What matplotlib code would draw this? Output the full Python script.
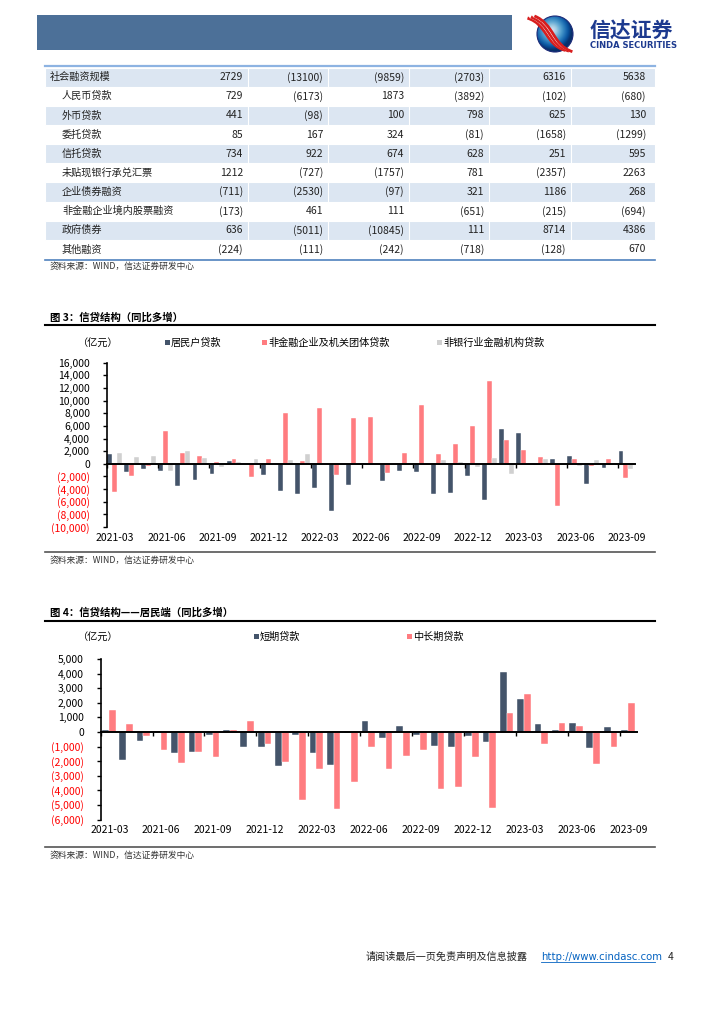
import matplotlib
matplotlib.use("Agg")
import matplotlib.pyplot as plt
import numpy as np
from matplotlib.patches import Rectangle, Circle, PathPatch
from matplotlib.path import Path
from matplotlib.transforms import blended_transform_factory

plt.rcParams['font.family'] = ['Noto Sans CJK SC', 'DejaVu Sans']

# ---- table data (社融同比多增, 亿元) ----
row_labels = ["社会融资规模", "人民币贷款", "外币贷款", "委托贷款", "信托贷款",
              "未贴现银行承兑汇票", "企业债券融资", "非金融企业境内股票融资",
              "政府债券", "其他融资"]
col1 = [2729, 729, 441, 85, 734, 1212, -711, -173, 636, -224]
col2 = [-13100, -6173, -98, 167, 922, -727, -2530, 461, -5011, -111]
col3 = [-9859, 1873, 100, 324, 674, -1757, -97, 111, -10845, -242]
col4 = [-2703, -3892, 798, -81, 628, 781, 321, -651, 111, -718]
col5 = [6316, -102, 625, -1658, 251, -2357, 1186, -215, 8714, -128]
col6 = [5638, -680, 130, -1299, 595, 2263, 268, -694, 4386, 670]

# ---- chart 3: 信贷结构 (同比多增) ----
months = [f"{y}-{m:02d}" for y in (2021, 2022, 2023) for m in range(1, 13)][2:33]
household = [1600, -1370, -790, -1100, -3470, -2630, -1680, 400, -100, -1820,
             -4250, -4730, -3900, -7420, -3310, 50, -2790, -1100, -1370, -4790,
             -4630, -1950, -5790, 5470, 4840, -260, 790, 1160, -3160, -630, 2050]
corporate = [-4420, -2000, -300, 5260, 1680, 1200, 350, 760, -2050, 700,
             8050, 370, 8780, -1740, 7200, 7470, -1420, 1740, 9300, 1530,
             3100, 6000, 13100, 3730, 2160, 1050, -6680, 740, -420, 740, -2310]
nonbank = [1680, 1100, 1300, -1100, 2000, 840, -580, 290, 700, 0,
           580, 1630, 0, 0, 0, 100, -260, 200, 0, 530,
           260, -580, 890, -1580, 0, 790, 0, -320, 680, 0, -900]

# ---- chart 4: 居民端 (同比多增) ----
short_term = [100, -1940, -590, 90, -1440, -1370, -200, 160, -1000, -1050,
              -2300, -230, -1410, -2260, -50, 750, -390, 410, -200, -940,
              -1030, -300, -680, 4130, 2230, 570, 110, 640, -1070, 360, 160]
mid_long = [1480, 525, -270, -1210, -2100, -1350, -1730, 160, 750, -840,
            -2030, -4630, -2550, -5290, -3420, -1000, -2530, -1620, -1250, -3920,
            -3760, -1710, -5220, 1320, 2620, -840, 640, 430, -2190, -1050, 2010]

NAVY, SALMON, GREY = "#44546A", "#FF7C80", "#D0D0D0"
W, H = 724, 1024

fig = plt.figure(figsize=(W / 100, H / 100), dpi=100)
bg = fig.add_axes([0, 0, 1, 1])
bg.set_xlim(0, W); bg.set_ylim(H, 0); bg.axis("off")


def rect(x0, y0, x1, y1):
    return [x0 / W, 1 - y1 / H, (x1 - x0) / W, (y1 - y0) / H]


def fmt(v):
    return f"{v:,}" if v >= 0 else f"({-v:,})"


# header banner + logo
bg.add_patch(Rectangle((37, 15), 475, 35, fc="#4C7098", ec="none"))
bg.plot([45, 655], [66, 66], color="#8DB3E2", lw=1.6)
circ = Circle((555, 34), 18, transform=bg.transData)
gx, gy = np.meshgrid(np.linspace(537, 573, 80), np.linspace(16, 52, 80))
shade = np.hypot(gx - 552, gy - 30) / 22
im = bg.imshow(shade, extent=(537, 573, 52, 16), cmap="Blues", vmin=-0.2, vmax=0.9,
               origin="upper", interpolation="bilinear")
im.set_clip_path(circ)
bg.add_patch(Circle((555, 34), 18, fc="none", ec="#1B2A78", lw=0.8))
for off, col, lw in ((-3.5, "#D81E1E", 2.2), (-1.6, "white", 0.7), (0, "#D81E1E", 2.2),
                     (1.8, "white", 0.7), (3.4, "#D81E1E", 2.0)):
    verts = [(531 + off, 17 - off * 0.3), (551 + off, 24), (549 + off, 45),
             (569 + off, 51 + off * 0.2)]
    p = Path(verts, [Path.MOVETO, Path.CURVE4, Path.CURVE4, Path.CURVE4])
    bg.add_patch(PathPatch(p, fc="none", ec=col, lw=lw, capstyle="butt"))
bg.text(590, 31, "信达证券", fontsize=15, fontweight="bold", color="#1D3A8F", va="center")
bg.text(590, 46, "CINDA SECURITIES", fontsize=6, fontweight="bold", color="#1D3A8F",
        va="center", family="DejaVu Sans")

# table
cols = [col1, col2, col3, col4, col5, col6]
col_right = [243, 323, 404, 484, 566, 646]
row_top, row_h = 67.5, 19.15
for i, lab in enumerate(row_labels):
    y0 = row_top + i * row_h
    if i % 2 == 0:
        bg.add_patch(Rectangle((45, y0), 610, row_h, fc="#DCE6F2", ec="white", lw=0.8))
    yc = y0 + row_h / 2
    bg.text(50 if i == 0 else 62, yc, lab, fontsize=7.3, va="center", color="#222222")
    for c, xr in zip(cols, col_right):
        bg.text(xr, yc, fmt(c[i]).replace(",", ""), fontsize=7.5, va="center", ha="right",
                color="#222222")
for xs in (248, 328, 409, 489, 571):
    bg.plot([xs, xs], [row_top, row_top + 10 * row_h], color="white", lw=0.8)
bg.plot([45, 655], [259.5, 259.5], color="#4F81BD", lw=1.2)
bg.text(50, 266.5, "资料来源：WIND，信达证券研发中心", fontsize=6.3, va="center", color="#333333")


def bar_chart(box, series, colors, width, ylim, step):
    ax = fig.add_axes(rect(*box))
    x = np.arange(len(months))
    n = len(series)
    for j, (vals, col) in enumerate(zip(series, colors)):
        ax.bar(x + (j - (n - 1) / 2) * width - 0.03, vals, width, color=col,
               edgecolor="white", linewidth=0.3)
    ax.set_xlim(-0.5, len(months) - 0.5)
    ax.set_ylim(*ylim)
    ticks = np.arange(ylim[0], ylim[1] + 1, step)
    ax.set_yticks(ticks, [fmt(int(t)) for t in ticks])
    for t, lbl in zip(ticks, ax.get_yticklabels()):
        lbl.set_color("red" if t < 0 else "black")
    ax.tick_params(axis="y", labelsize=7.5, length=3, width=1, direction="out", pad=9)
    ax.set_xticks(np.arange(-0.5, len(months), 3), [])
    ax.tick_params(axis="x", length=3, width=1, direction="out")
    for s in ("top", "right"):
        ax.spines[s].set_visible(False)
    ax.spines["left"].set_linewidth(1.2)
    ax.spines["bottom"].set_position(("data", 0))
    ax.spines["bottom"].set_linewidth(1.4)
    tr = blended_transform_factory(ax.transData, ax.transAxes)
    for k in range(0, len(months), 3):
        ax.text(k, -0.035, months[k], transform=tr, ha="center", va="top", fontsize=7.5)
    ax.patch.set_alpha(0)
    return ax


# chart 3
bg.text(50, 317, "图 3：信贷结构（同比多增）", fontsize=7.5, fontweight="bold", va="center")
bg.plot([45, 655], [325, 325], color="black", lw=1.5)
bg.text(78, 343, "（亿元）", fontsize=7.3, va="center")
for xs, lab, col in ((165, "居民户贷款", NAVY), (262, "非金融企业及机关团体贷款", SALMON),
                     (437, "非银行业金融机构贷款", GREY)):
    bg.add_patch(Rectangle((xs, 340), 5, 5, fc=col, ec="none"))
    bg.text(xs + 6, 343, lab, fontsize=7.3, va="center")
bar_chart((106.7, 362.7, 635, 527), [household, corporate, nonbank],
          [NAVY, SALMON, GREY], 0.29, (-10000, 16000), 2000)
bg.plot([45, 655], [551.5, 551.5], color="#555555", lw=1.2)
bg.text(50, 560, "资料来源：WIND，信达证券研发中心", fontsize=6.3, va="center", color="#333333")

# chart 4
bg.text(50, 612, "图 4：信贷结构——居民端（同比多增）", fontsize=7.5, fontweight="bold", va="center")
bg.plot([45, 655], [620.5, 620.5], color="black", lw=1.5)
bg.text(78, 636.5, "（亿元）", fontsize=7.3, va="center")
for xs, lab, col in ((254, "短期贷款", NAVY), (407, "中长期贷款", SALMON)):
    bg.add_patch(Rectangle((xs, 634), 5, 5, fc=col, ec="none"))
    bg.text(xs + 6, 637, lab, fontsize=7.3, va="center")
bar_chart((100.7, 659, 637, 819.5), [short_term, mid_long], [NAVY, SALMON],
          0.39, (-6000, 5000), 1000)
bg.plot([45, 655], [847, 847], color="#555555", lw=1.2)
bg.text(50, 855, "资料来源：WIND，信达证券研发中心", fontsize=6.3, va="center", color="#333333")

# footer
bg.text(366, 957, "请阅读最后一页免责声明及信息披露", fontsize=7.3, va="center", color="#222222")
bg.text(541, 957, "http://www.cindasc.com", fontsize=7.3, va="center", color="#0563C1",
        family="DejaVu Sans")
bg.plot([541, 655], [962, 962], color="#0563C1", lw=0.6)
bg.text(668, 957, "4", fontsize=7.3, va="center", color="#222222")

fig.savefig("out.png", dpi=100)
